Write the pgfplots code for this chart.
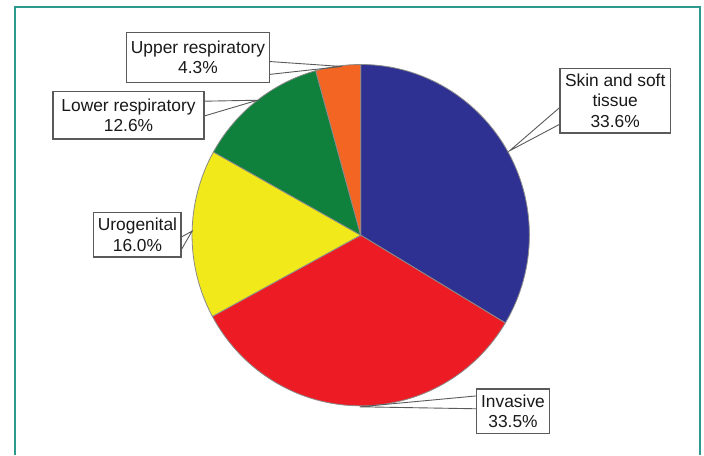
\documentclass[border=0pt]{standalone}
\usepackage{fontspec}
\setmainfont{Liberation Sans}
\usepackage{pgfplots}
\usepackage{pgfplotstable}
\pgfplotsset{compat=1.18}

\definecolor{c0}{HTML}{2E3192}
\definecolor{c1}{HTML}{ED1C24}
\definecolor{c2}{HTML}{F2E91B}
\definecolor{c3}{HTML}{10803D}
\definecolor{c4}{HTML}{F26522}
\definecolor{slicegray}{HTML}{8A8A8A}
\definecolor{boxgray}{HTML}{5A5A5A}
\definecolor{frameteal}{HTML}{2E9A8E}

% share of each infection site, clockwise from 12 o'clock
\pgfplotstableread{
site        pct
Skin        33.6
Invasive    33.5
Urogenital  16.0
LowerResp   12.6
UpperResp   4.3
}\piedata

\tikzset{
	lbl/.style={draw=boxgray, line width=1.3pt, fill=white, inner sep=0pt, align=center,
		text=black!90, font=\fontsize{17.5}{20.5}\selectfont},
	callout/.style={draw=boxgray, line width=0.9pt}
}

\begin{document}
% start and end angle of every slice
\def\angcur{90}
\pgfplotsforeachungrouped \i in {0,...,4}{%
	\pgfplotstablegetelem{\i}{pct}\of\piedata
	\pgfmathsetmacro\angnext{\angcur-3.6*\pgfplotsretval}%
	\expandafter\xdef\csname angA\i\endcsname{\angcur}%
	\expandafter\xdef\csname angB\i\endcsname{\angnext}%
	\xdef\angcur{\angnext}%
}
\begin{tikzpicture}
	\begin{axis}[
		hide axis, scale only axis,
		width=704pt, height=459pt,
		xmin=0, xmax=704, ymin=0, ymax=459,
		y dir=reverse]
		\fill[white] (axis cs:0,0) rectangle (axis cs:704,459);
		\draw[frameteal, line width=2pt] (axis cs:10,459) -- (axis cs:10,7.5) -- (axis cs:700,7.5) -- (axis cs:700,459);
		
		\pgfplotsinvokeforeach{0,...,4}{
			\fill[c#1, draw=slicegray, line width=0.8pt] (axis cs:358,237)
				-- ++(\csname angA#1\endcsname:170pt and 172pt)
				arc[start angle=\csname angA#1\endcsname, end angle=\csname angB#1\endcsname, x radius=170pt, y radius=172pt]
				-- cycle;
		}
		
		% callout pointers
		\draw[callout] (axis cs:559,108) -- (axis cs:508,152) -- (axis cs:559,125);
		\draw[callout] (axis cs:475,399) -- (axis cs:357,410) -- (axis cs:475,412);
		\draw[callout] (axis cs:177,239) -- (axis cs:188,233) -- (axis cs:177,252);
		\draw[callout] (axis cs:200,102) -- (axis cs:254,101) -- (axis cs:200,117);
		\draw[callout] (axis cs:266,62) -- (axis cs:339,67) -- (axis cs:266,75);
		
		\node[lbl, minimum width=111pt, minimum height=65pt] at (axis cs:614.5,101.5) {Skin and soft\\tissue\\33.6\%};
		\node[lbl, minimum width=73pt, minimum height=45pt] at (axis cs:511.5,414.5) {Invasive\\33.5\%};
		\node[lbl, minimum width=88pt, minimum height=45pt] at (axis cs:133,236.5) {Urogenital\\16.0\%};
		\node[lbl, minimum width=152pt, minimum height=48pt] at (axis cs:124,116) {Lower respiratory\\12.6\%};
		\node[lbl, minimum width=144pt, minimum height=50pt] at (axis cs:194,58) {Upper respiratory\\4.3\%};
	\end{axis}
\end{tikzpicture}
\end{document}
